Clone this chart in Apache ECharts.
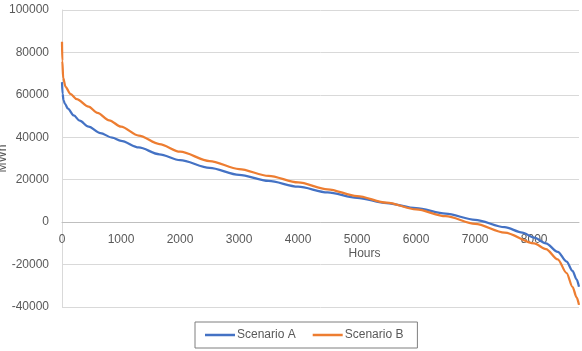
<!DOCTYPE html>
<html>
<head>
<meta charset="utf-8">
<script src="https://cdn.jsdelivr.net/npm/echarts@6/dist/echarts.min.js"></script>
<style>html,body{margin:0;padding:0;background:#fff}#c{width:582px;height:351px}</style>
</head>
<body>
<div id="c"></div>
<script>
var hoursA = [0, 10, 25, 50, 100, 200, 300, 450, 650, 850, 1000, 1300, 1650, 2000, 2500, 3000, 3500, 4000, 4500, 5000, 5500, 6000, 6500, 7000, 7500, 7800, 8000, 8200, 8400, 8550, 8650, 8720, 8760];
var scenarioA = [66000, 60500, 57500, 55800, 53500, 50300, 47800, 45000, 42000, 39800, 38300, 35200, 32000, 29200, 25600, 22300, 19400, 16700, 14000, 11400, 9000, 6600, 4000, 1100, -2400, -4900, -7300, -10000, -14000, -18600, -23000, -27000, -30500];
var hoursB = [0, 5, 20, 60, 140, 250, 450, 600, 800, 1000, 1300, 1650, 2000, 2500, 3000, 3500, 4000, 4500, 5000, 5500, 6000, 6500, 7000, 7500, 8000, 8200, 8400, 8550, 8650, 8720, 8760];
var scenarioB = [85000, 76000, 68000, 63800, 60500, 58000, 54400, 51500, 48000, 45000, 40800, 36800, 33200, 28800, 25000, 21800, 18700, 15500, 12300, 9200, 6000, 2800, -800, -4900, -10000, -12700, -17500, -24000, -30500, -35500, -39000];
var seriesNames = ['Scenario A', 'Scenario B'];

function pairs(h, v) { return h.map(function (x, i) { return [x, v[i]]; }); }
function plain(v) { return String(v); }

var font = 'Liberation Sans';
var grey = '#595959';
var yMin = -40000, yMax = 100000;
var gridTop = 10, gridBottom = 44, H = 351;
// shift the x axis up to the zero line (negative offset = towards the plot)
var plotH = H - gridTop - gridBottom;
var zeroShift = Math.round(plotH * (0 - yMin) / (yMax - yMin));

var chart = echarts.init(document.getElementById('c'));
chart.setOption({
  animation: false,
  grid: { left: 62, right: 3, top: gridTop, bottom: gridBottom, containLabel: false, outerBoundsMode: 'none' },
  legend: {
    data: seriesNames,
    top: 322,
    left: 195,
    icon: 'rect',
    itemWidth: 30,
    itemHeight: 2.5,
    itemGap: 17,
    borderColor: '#7f7f7f',
    borderWidth: 1,
    padding: [7, 14, 7, 10],
    textStyle: { fontFamily: font, fontSize: 12, color: grey, padding: [0, 0, 0, -3] }
  },
  xAxis: {
    type: 'value',
    min: 0, max: 8760, interval: 1000,
    offset: -zeroShift,
    name: 'Hours',
    nameLocation: 'middle',
    nameGap: 26,
    nameMoveOverlap: false,
    nameTextStyle: { fontFamily: font, fontSize: 12, color: grey, padding: [0, 0, 0, 88] },
    axisLine: { show: true, onZero: false, lineStyle: { color: '#bfbfbf', width: 1 } },
    axisTick: { show: false },
    axisLabel: { fontFamily: font, fontSize: 12, color: grey, margin: 12, showMaxLabel: false, formatter: plain },
    splitLine: { show: false }
  },
  yAxis: {
    type: 'value',
    min: yMin, max: yMax, interval: 20000,
    name: 'MWh',
    nameLocation: 'middle',
    nameGap: 53,
    nameMoveOverlap: false,
    nameTextStyle: { fontFamily: font, fontSize: 12, color: grey },
    axisLine: { show: true, onZero: false, lineStyle: { color: '#d9d9d9', width: 1 } },
    axisTick: { show: false },
    axisLabel: { fontFamily: font, fontSize: 12, color: grey, margin: 13, formatter: plain },
    splitLine: { show: true, lineStyle: { color: '#d9d9d9', width: 1 } }
  },
  series: [
    {
      name: seriesNames[0], type: 'line', data: pairs(hoursA, scenarioA),
      symbol: 'none', smooth: 0.3, smoothMonotone: 'x',
      lineStyle: { color: '#4472C4', width: 2.25 }, itemStyle: { color: '#4472C4' }
    },
    {
      name: seriesNames[1], type: 'line', data: pairs(hoursB, scenarioB),
      symbol: 'none', smooth: 0.3, smoothMonotone: 'x',
      lineStyle: { color: '#ED7D31', width: 2.25 }, itemStyle: { color: '#ED7D31' }
    }
  ]
});
</script>
</body>
</html>
